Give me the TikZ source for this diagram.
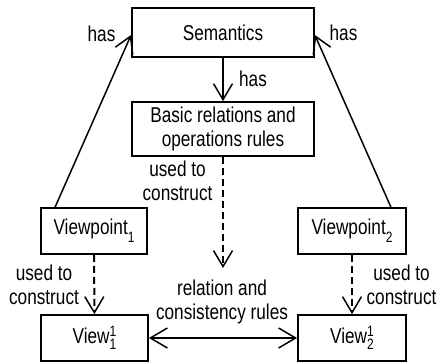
\documentclass[tikz,border=0pt]{standalone}
\usepackage{fontspec}
\setmainfont[FakeStretch=0.8]{Liberation Sans}
\usetikzlibrary{arrows.meta}
% index digits for the viewpoint and view names
\newcommand{\idx}[1]{{\fontsize{15}{15}\selectfont #1}}
\newcommand{\lowidx}[1]{\raisebox{-8pt}{\idx{#1}}}
\newcommand{\twoidx}[2]{\rlap{\raisebox{6.7pt}{\idx{#1}}}\raisebox{-6.6pt}{\idx{#2}}}
\begin{document}
\begin{tikzpicture}[x=1pt,y=-1pt,
  every node/.style={font=\fontsize{21.5}{24.5}\selectfont},
  box/.style={draw, line width=1.8pt, align=center, inner sep=0pt},
  lbl/.style={align=center, inner sep=0pt},
  link/.style={line width=1.5pt, -{Straight Barb[length=16pt,width=19pt,line width=1.5pt]}},
  dlink/.style={link, dash pattern=on 7pt off 4pt, line width=2pt},
  both/.style={line width=1.5pt, {Straight Barb[length=17pt,width=20pt,line width=1.5pt]}-{Straight Barb[length=17pt,width=20pt,line width=1.5pt]}}
]
\useasboundingbox (0,0) rectangle (437,362);

% boxes
\node[box, minimum width=182pt, minimum height=49pt] (sem) at (223,32.5) {Semantics};
\node[box, minimum width=182pt, minimum height=54pt] (basic) at (223,129) {Basic relations and\\operations rules};
\node[box, minimum width=106pt, minimum height=46pt] (vp1) at (94,231) {Viewpoint\lowidx{1}};
\node[box, minimum width=108pt, minimum height=46pt] (vp2) at (352,231) {Viewpoint\lowidx{2}};
\node[box, minimum width=107pt, minimum height=46pt] (v1) at (94.5,338) {View\twoidx{1}{1}};
\node[box, minimum width=108pt, minimum height=46pt] (v2) at (352,338) {View\twoidx{1}{2}};

\coordinate (rulesend) at (223,268);

% connectors
\draw[link] (sem) -- (basic);
\draw[link] ([xshift=15pt]vp1.north west) -- ([yshift=-2.5pt]sem.west);
\draw[link] ([xshift=-16pt]vp2.north east) -- ([yshift=-2.5pt]sem.east);
\draw[dlink] (basic) -- (rulesend);
\draw[dlink] (vp1) -- (v1);
\draw[dlink] (vp2) -- (v2);
\draw[both] (v1) -- (v2);

% labels
\node[lbl] (lhas) at (253,79) {has};
\node[lbl] (lhasl) at (101.5,34) {has};
\node[lbl] (lhasr) at (343.5,33) {has};
\node[lbl] (luse) at (177.5,181) {used to\\construct};
\node[lbl] (luse1) at (44,285) {used to\\construct};
\node[lbl] (luse2) at (401.5,285) {used to\\construct};
\node[lbl] (lrel) at (222,302) {relation and\\consistency rules};
\end{tikzpicture}
\end{document}
